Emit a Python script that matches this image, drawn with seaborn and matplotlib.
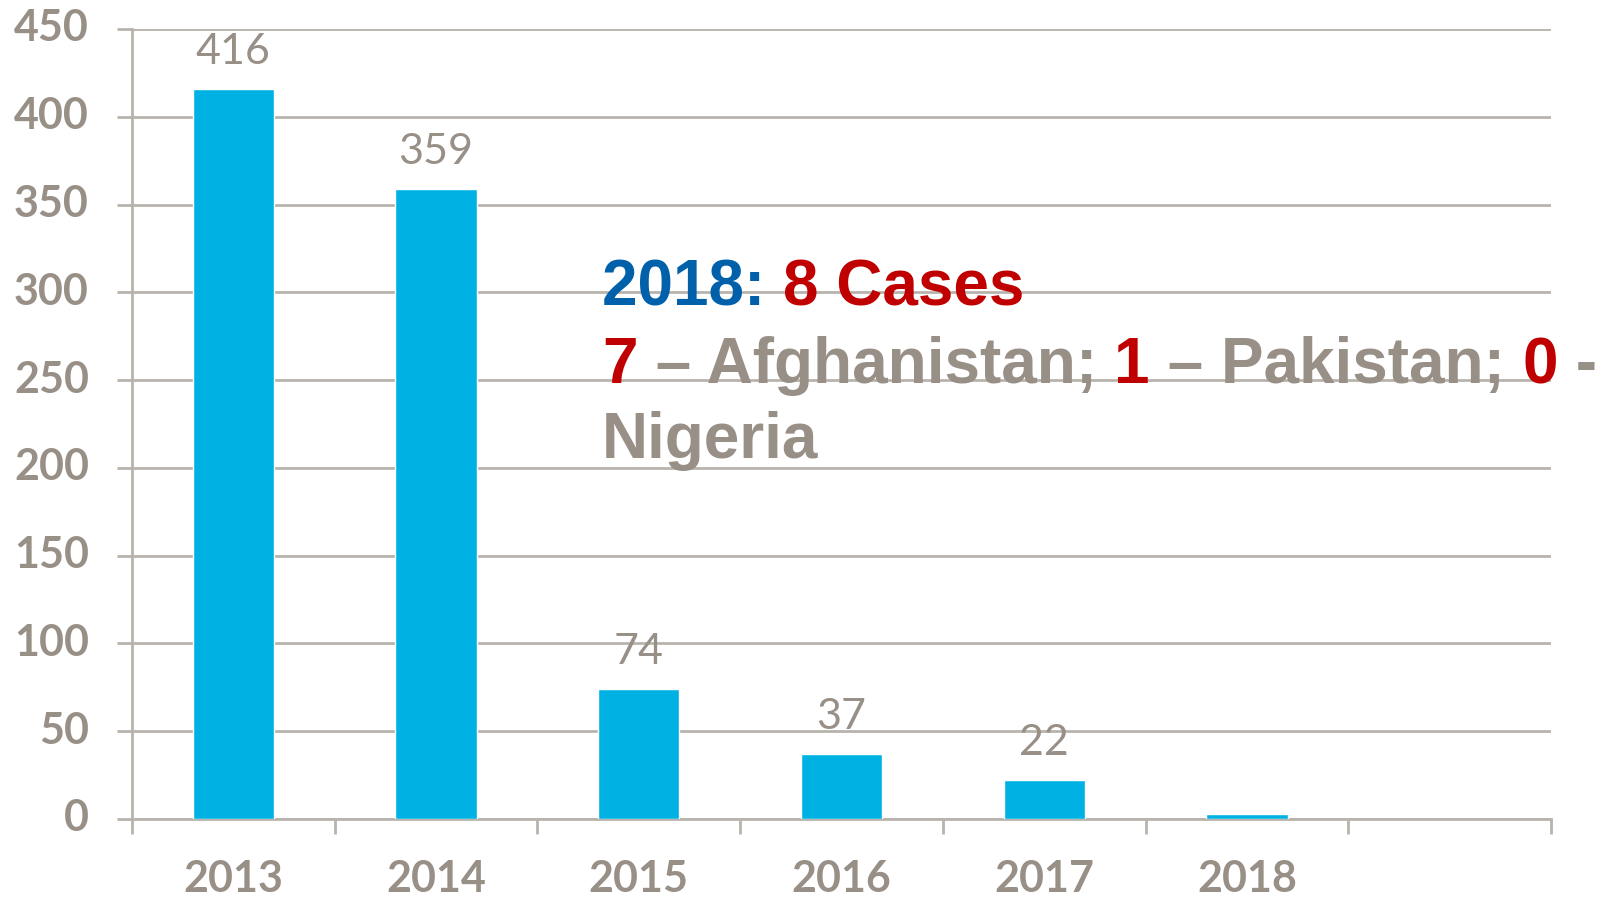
import matplotlib
matplotlib.use("Agg")
import matplotlib.pyplot as plt
import matplotlib.transforms as mtransforms
import seaborn as sns
import pandas as pd

years = ["2013", "2014", "2015", "2016", "2017", "2018"]
cases = [416, 359, 74, 37, 22, 3]
value_labels = ["416", "359", "74", "37", "22", ""]
y_ticks = [0, 50, 100, 150, 200, 250, 300, 350, 400, 450]

line1 = [("2018: ", "#0061AA"), ("8 Cases", "#C00000")]
line2 = [("7", "#C00000"), (" – Afghanistan; ", "#988F87"), ("1", "#C00000"),
         (" – Pakistan; ", "#988F87"), ("0", "#C00000"), (" -", "#988F87")]
line3 = [("Nigeria", "#988F87")]

GRAY = "#988F87"
GRID = "#B8B3AD"
BAR = "#00B2E4"

sns.set_theme(style="white")
plt.rcParams["font.family"] = ["Lato", "DejaVu Sans"]

fig = plt.figure(figsize=(16.13, 8.97), dpi=100)
ax = fig.add_axes([0.0818, 0.087, 0.9616 - 0.0818, 0.9677 - 0.087])

df = pd.DataFrame({"year": years, "cases": cases})
sns.barplot(data=df, x="year", y="cases", color=BAR, width=0.4, saturation=1,
            ax=ax, zorder=3)

ax.set_xlim(-0.5, 6.5)
ax.set_ylim(0, 450)
ax.set_yticks(y_ticks)
ax.yaxis.grid(True, color=GRID, linewidth=2, zorder=0)
ax.set_axisbelow(True)
for s in ["top", "right"]:
    ax.spines[s].set_visible(False)
for s in ["left", "bottom"]:
    ax.spines[s].set_color(GRID)
    ax.spines[s].set_linewidth(2)

ax.set_xlabel("")
ax.set_ylabel("")
ax.tick_params(axis="y", length=11, width=2, color=GRID, direction="out",
               pad=20, labelsize=31, labelcolor=GRAY, left=True)
ax.tick_params(axis="x", which="major", length=0, pad=29, labelsize=31,
               labelcolor=GRAY)
ax.set_xticks([i - 0.5 for i in range(8)], minor=True)
ax.tick_params(axis="x", which="minor", length=11, width=2, color=GRID,
               direction="out", bottom=True)
for lab in ax.get_xticklabels() + ax.get_yticklabels():
    lab.set_fontweight("bold")
shift = mtransforms.ScaledTranslation(0, 4 / 100, fig.dpi_scale_trans)
for lab in ax.get_yticklabels():
    lab.set_transform(lab.get_transform() + shift)

ax.bar_label(ax.containers[0], labels=value_labels, padding=13, fontsize=31,
             color=GRAY)

# multi-coloured annotation
font = dict(family=["Liberation Sans", "DejaVu Sans"], fontweight="bold",
            fontsize=46)
x0 = 602 / 1613
baselines = [1 - 305 / 897, 1 - 383 / 897, 1 - 458 / 897]
for line, yb in zip([line1, line2, line3], baselines):
    prev = None
    for txt, col in line:
        if prev is None:
            prev = fig.text(x0, yb, txt, color=col, va="baseline", ha="left", **font)
        else:
            prev = ax.annotate(txt, xy=(1, 0), xycoords=prev, va="bottom",
                               ha="left", color=col, annotation_clip=False, **font)

fig.savefig("out.png", dpi=100)
